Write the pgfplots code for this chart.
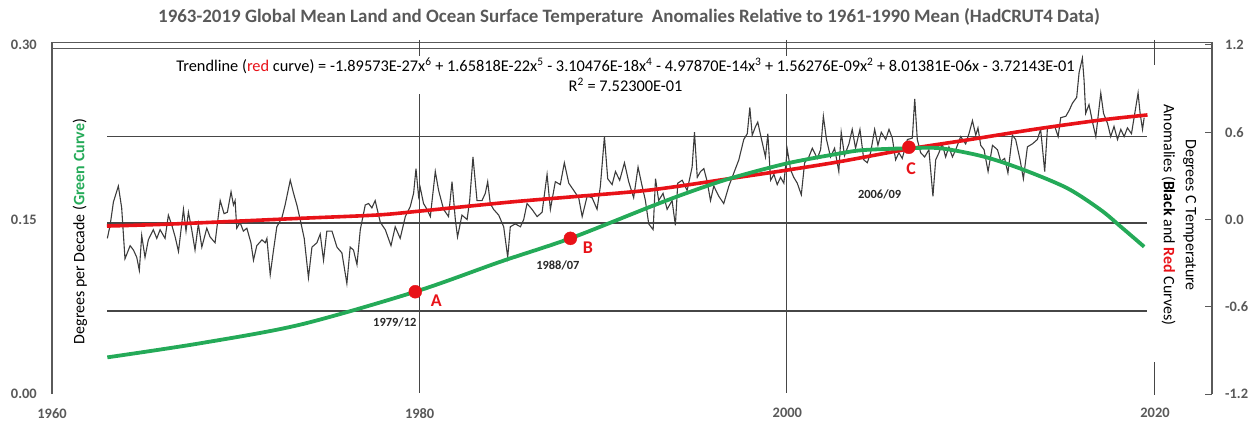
\documentclass[border=0pt]{standalone}
\usepackage{pgfplots}
\pgfplotsset{compat=1.18}
\usepackage{fontspec}
\setmainfont{Carlito}
\definecolor{tgray}{RGB}{89,89,89}
\definecolor{axgray}{RGB}{90,90,90}
\definecolor{gridc}{RGB}{70,70,70}
\definecolor{cred}{RGB}{232,18,24}
\definecolor{cgreen}{RGB}{36,170,88}
\definecolor{curveblack}{RGB}{60,60,60}
\definecolor{dgray}{RGB}{40,40,40}

\pgfplotstableread{
yr v
1963.01 -0.13
1963.16 -0.04
1963.34 0.12
1963.61 0.23
1963.79 0.08
1963.97 -0.27
1964.25 -0.18
1964.43 -0.21
1964.61 -0.26
1964.75 -0.35
1964.88 -0.11
1965.06 -0.26
1965.24 -0.14
1965.51 -0.07
1965.70 -0.13
1965.88 -0.07
1966.15 -0.13
1966.33 0.03
1966.52 -0.04
1966.70 -0.12
1966.88 -0.22
1967.15 0.07
1967.29 -0.08
1967.42 0.05
1967.60 -0.07
1967.78 -0.21
1967.96 -0.03
1968.15 -0.19
1968.42 -0.06
1968.60 -0.12
1968.87 -0.16
1969.15 0.13
1969.36 0.04
1969.54 0.05
1969.74 0.19
1969.87 0.10
1969.96 0.13
1970.05 -0.06
1970.23 -0.02
1970.41 -0.08
1970.60 -0.06
1970.82 -0.16
1970.96 -0.28
1971.14 -0.18
1971.42 -0.14
1971.60 -0.16
1971.69 -0.13
1971.87 -0.38
1972.05 -0.21
1972.23 -0.05
1972.50 0.01
1972.68 0.10
1972.96 0.27
1973.14 0.18
1973.32 0.10
1973.50 0.00
1973.72 -0.13
1973.95 -0.40
1974.14 -0.19
1974.41 -0.16
1974.59 -0.10
1974.77 -0.28
1974.95 -0.08
1975.23 -0.08
1975.50 -0.19
1975.77 -0.23
1976.04 -0.44
1976.22 -0.19
1976.40 -0.21
1976.59 -0.31
1976.77 -0.07
1977.04 0.10
1977.22 0.11
1977.40 0.08
1977.58 0.13
1977.86 -0.02
1978.13 -0.07
1978.44 -0.18
1978.67 -0.05
1978.94 -0.13
1979.22 0.02
1979.49 0.09
1979.67 0.18
1979.80 0.35
1979.94 0.16
1980.03 0.22
1980.21 0.11
1980.40 0.07
1980.58 0.02
1980.85 0.33
1981.03 0.20
1981.30 0.07
1981.57 0.02
1981.76 0.26
1981.94 0.00
1982.06 -0.12
1982.30 0.03
1982.58 0.00
1982.72 0.13
1982.90 0.43
1983.12 0.13
1983.39 0.13
1983.57 0.18
1983.70 0.26
1983.84 0.11
1984.02 0.07
1984.30 0.03
1984.57 -0.05
1984.79 -0.26
1984.93 -0.05
1985.20 -0.03
1985.48 -0.05
1985.66 0.00
1985.84 0.11
1986.11 0.07
1986.39 0.02
1986.66 0.05
1986.93 0.31
1987.11 0.07
1987.38 0.26
1987.65 0.24
1987.87 0.39
1988.11 0.25
1988.38 0.20
1988.65 0.15
1988.84 0.02
1989.11 0.16
1989.38 0.15
1989.65 0.07
1989.83 0.23
1990.05 0.57
1990.23 0.28
1990.47 0.24
1990.65 0.33
1990.88 0.27
1991.14 0.39
1991.37 0.26
1991.64 0.15
1991.88 0.36
1992.10 0.23
1992.28 0.13
1992.46 -0.03
1992.70 -0.07
1992.83 0.28
1993.00 0.13
1993.24 0.18
1993.46 0.07
1993.73 0.13
1993.91 -0.04
1994.04 0.25
1994.28 0.27
1994.55 0.20
1994.82 0.36
1994.95 0.60
1995.10 0.29
1995.28 0.33
1995.46 0.35
1995.64 0.26
1995.82 0.13
1996.00 0.23
1996.27 0.16
1996.54 0.11
1996.82 0.23
1997.09 0.32
1997.36 0.41
1997.63 0.55
1997.82 0.59
1997.96 0.77
1998.09 0.58
1998.27 0.64
1998.39 0.67
1998.58 0.56
1998.81 0.43
1998.94 0.59
1999.09 0.27
1999.27 0.31
1999.45 0.24
1999.63 0.29
1999.81 0.25
2000.00 0.48
2000.18 0.34
2000.35 0.29
2000.54 0.25
2000.76 0.17
2000.94 0.39
2001.17 0.43
2001.36 0.49
2001.63 0.42
2001.81 0.48
2001.96 0.71
2002.13 0.55
2002.35 0.43
2002.57 0.49
2002.80 0.33
2002.93 0.60
2003.11 0.44
2003.35 0.52
2003.53 0.62
2003.71 0.49
2003.95 0.62
2004.16 0.41
2004.35 0.39
2004.53 0.46
2004.75 0.62
2004.93 0.51
2005.11 0.60
2005.35 0.55
2005.53 0.62
2005.71 0.56
2005.89 0.41
2006.07 0.46
2006.25 0.42
2006.53 0.55
2006.80 0.56
2006.93 0.83
2007.07 0.55
2007.25 0.46
2007.47 0.43
2007.70 0.48
2007.92 0.16
2008.07 0.41
2008.25 0.46
2008.43 0.52
2008.61 0.43
2008.79 0.50
2008.98 0.43
2009.16 0.48
2009.43 0.57
2009.70 0.52
2009.88 0.59
2010.07 0.68
2010.25 0.58
2010.37 0.63
2010.52 0.51
2010.70 0.48
2010.92 0.33
2011.16 0.51
2011.43 0.48
2011.61 0.40
2011.82 0.42
2012.00 0.32
2012.24 0.58
2012.42 0.55
2012.66 0.41
2012.84 0.28
2013.06 0.50
2013.33 0.52
2013.60 0.55
2013.78 0.62
2014.00 0.33
2014.15 0.63
2014.37 0.63
2014.55 0.64
2014.73 0.57
2014.87 0.70
2015.15 0.71
2015.33 0.75
2015.51 0.80
2015.74 0.84
2015.87 1.01
2016.05 1.11
2016.14 0.96
2016.23 0.73
2016.41 0.79
2016.60 0.67
2016.78 0.57
2017.05 0.87
2017.20 0.73
2017.42 0.66
2017.59 0.57
2017.77 0.64
2017.96 0.55
2018.14 0.62
2018.32 0.57
2018.50 0.63
2018.72 0.59
2018.90 0.73
2019.08 0.87
2019.19 0.73
2019.32 0.62
2019.41 0.70
}\anomaly

\pgfplotstableread{
yr v
1962.99 -0.045
1966.52 -0.031
1973.50 0.008
1977.69 0.031
1980.03 0.058
1984.93 0.120
1988.20 0.155
1992.55 0.203
1996.91 0.282
2000.00 0.340
2002.90 0.399
2006.60 0.485
2009.79 0.547
2013.42 0.620
2017.05 0.684
2019.59 0.719
}\trend

\pgfplotstableread{
yr g
1963.01 0.0315
1968.06 0.0436
1973.50 0.0596
1979.76 0.0879
1984.39 0.1137
1988.20 0.1338
1992.55 0.1610
1994.73 0.1739
1996.91 0.1854
2000.00 0.1983
2002.90 0.2069
2004.16 0.2097
2006.53 0.2112
2008.34 0.2112
2010.70 0.2040
2012.87 0.1926
2015.24 0.1768
2017.05 0.1582
2018.14 0.1438
2019.41 0.1266
}\decade

\begin{document}
\begin{tikzpicture}[x=1bp,y=1bp]
\useasboundingbox (0,0) rectangle (1256,423);
% frame
\draw[draw=axgray, line width=1.5bp] (52,29) -- (52,381);
\draw[draw=axgray, line width=1.2bp] (1212,29) -- (1212,381);
\draw[draw=axgray, line width=1.1bp] (52,380.5) -- (1212,380.5);
\draw[draw=axgray, line width=1.1bp] (52,374.5) -- (1212,374.5);
% vertical grid lines
\draw[draw=gridc, line width=1.2bp] (419.3,383) -- (419.3,30);
\draw[draw=gridc, line width=1.2bp] (786.7,383) -- (786.7,30);
\draw[draw=gridc, line width=1.2bp] (1154.1,383) -- (1154.1,358);
\draw[draw=gridc, line width=1.2bp] (1154.1,61) -- (1154.1,28);
% horizontal grid lines
\draw[draw=gridc, line width=1.1bp] (107,286.5) -- (1147,286.5);
\draw[draw=gridc, line width=1.1bp] (107,200) -- (1147,200);
\draw[draw=gridc, line width=1.1bp] (107,112) -- (1147,112);

% right axis: temperature anomalies
\begin{axis}[at={(52bp,29bp)}, anchor=south west, scale only axis,
  width=1160bp, height=349bp,
  xmin=1960, xmax=2023.1, ymin=-1.2, ymax=1.2, clip=false,
  axis x line=none, axis y line*=right, axis line style={draw=none},
  ytick={-1.2,-0.6,0,0.6,1.2}, yticklabels={-1.2,-0.6,0.0,0.6,1.2},
  tick align=inside, major tick length=7bp,
  ytick style={draw=axgray, line width=1bp},
  yticklabel style={font=\fontsize{14.5}{16}\selectfont\bfseries, text=tgray,
    anchor=west, inner sep=0pt, xshift=13bp},
]
\node[fill=white, inner xsep=1bp, inner ysep=2bp, align=center,
  font=\fontsize{16.4}{20}\selectfont] at (axis cs:1991.2,0.994)
  {Trendline (\textcolor{cred}{red} curve) = -1.89573E-27x\textsuperscript{6} + 1.65818E-22x\textsuperscript{5} - 3.10476E-18x\textsuperscript{4} - 4.97870E-14x\textsuperscript{3} + 1.56276E-09x\textsuperscript{2} + 8.01381E-06x - 3.72143E-01\\R\textsuperscript{2} = 7.52300E-01};
\addplot[draw=curveblack, line width=1.1bp] table[x=yr, y=v] {\anomaly};
\addplot[draw=cred, line width=3.6bp, smooth] table[x=yr, y=v] {\trend};
\end{axis}

% left axis: degrees per decade
\begin{axis}[at={(52bp,29bp)}, anchor=south west, scale only axis,
  width=1160bp, height=349bp,
  xmin=1960, xmax=2023.1, ymin=0, ymax=0.30, clip=false,
  axis x line*=bottom, axis y line*=left, axis line style={draw=none},
  xtick={1960,1980,2000,2020}, xticklabels={1960,1980,2000,2020},
  ytick={0,0.15,0.30}, yticklabels={0.00,0.15,0.30},
  major tick length=0pt, tick style={draw=none},
  xticklabel style={font=\fontsize{14.5}{16}\selectfont\bfseries, text=tgray,
    anchor=north, inner sep=0pt, yshift=-14bp},
  yticklabel style={font=\fontsize{14.5}{16}\selectfont\bfseries, text=tgray,
    anchor=east, inner sep=0pt, xshift=-15bp},
]
\addplot[draw=cgreen, line width=3.8bp, smooth] table[x=yr, y=g] {\decade};
\addplot[only marks, mark=*, mark size=6.5bp, mark options={fill=cred, draw=cred}]
  coordinates {(1979.76,0.0879) (1988.20,0.1338) (2006.61,0.2121)};
\node[font=\fontsize{18}{20}\selectfont\bfseries, text=cred] at (axis cs:1980.90,0.0799) {A};
\node[font=\fontsize{18}{20}\selectfont\bfseries, text=cred] at (axis cs:1989.15,0.1259) {B};
\node[font=\fontsize{18}{20}\selectfont\bfseries, text=cred] at (axis cs:2006.73,0.1934) {C};
\node[font=\fontsize{12.5}{14}\selectfont\bfseries, text=dgray] at (axis cs:1978.65,0.0616) {1979/12};
\node[font=\fontsize{12.5}{14}\selectfont\bfseries, text=dgray] at (axis cs:1987.52,0.1103) {1988/07};
\node[font=\fontsize{12.5}{14}\selectfont\bfseries, text=dgray] at (axis cs:2005.02,0.1719) {2006/09};
\end{axis}

% titles and axis labels
\node[font=\fontsize{19}{21}\selectfont\bfseries, text=tgray] at (629,406)
  {1963-2019 Global Mean Land and Ocean Surface Temperature\ \ Anomalies Relative to 1961-1990 Mean (HadCRUT4 Data)};
\node[rotate=90, font=\fontsize{16}{18}\selectfont] at (80,191.5)
  {Degrees per Decade (\textcolor{cgreen}{\bfseries Green Curve})};
\node[rotate=-90, align=center, font=\fontsize{16}{22}\selectfont] at (1179,208)
  {Degrees C Temperature\\Anomalies (\textbf{Black} and \textcolor{cred}{\textbf{Red}} Curves)};
\end{tikzpicture}
\end{document}
